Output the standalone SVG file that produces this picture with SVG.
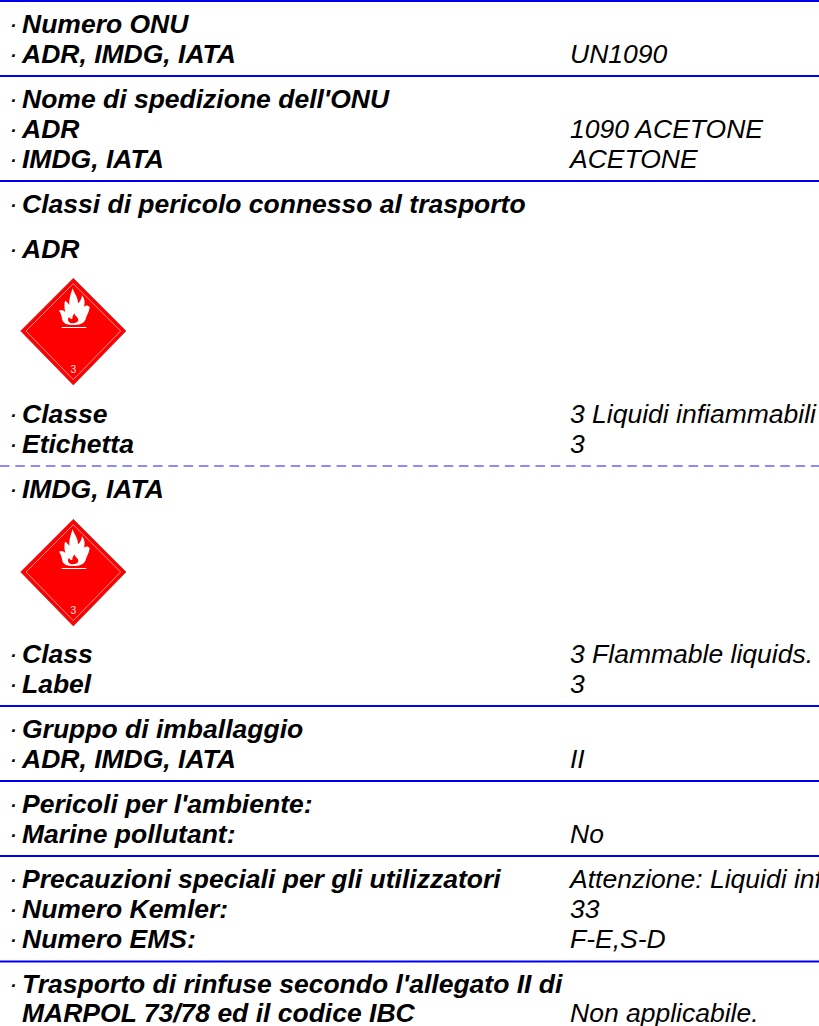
<svg xmlns="http://www.w3.org/2000/svg" width="819" height="1026" viewBox="0 0 819 1026">
<style>
text{font-family:"Liberation Sans",Arial,sans-serif;font-size:26.5px;font-style:italic;fill:#000}
.b{font-weight:bold}
.d{font-weight:normal}
.s{stroke:#0000f0;stroke-width:2;fill:none}
.dash{stroke:#6666ff;stroke-width:1.5;stroke-dasharray:9.5 5.8;fill:none}
</style>
<defs>
<g id="placard">
<polygon points="220,25 378,183 220,345 62,183" fill="#ff0000" stroke="#a03030" stroke-width="2"/>
<polygon points="220,41 362,183 220,329 78,183" fill="none" stroke="#ffb0b0" stroke-width="2.5"/>
<path d="M218,55C222,70 234,80 234,100C241,95 245,85 246,76C254,86 256,98 252,110C258,106 264,104 269,112C268,126 260,136 256,150C250,162 236,165 220,165C204,165 192,163 187,150C185,136 182,128 177,122C184,118 191,121 196,126C192,112 193,100 195,92C201,95 205,100 208,105C206,90 212,72 218,55Z" fill="#fff"/>
<path d="M223,130C225,139 236,142 235,151C233,158 226,160 219,160C211,160 205,157 204,150C204,146 205,143 207,141C210,145 213,148 217,147C216,141 220,136 223,130Z" fill="#ff0000"/>
<rect x="185" y="171" width="74" height="3" fill="#fff"/>
<text x="220" y="309" text-anchor="middle" style="font-size:31px;font-style:normal;fill:#ffe0e0">3</text>
</g>
</defs>
<g id="connectors">
<line class="s" x1="0" y1="1" x2="819" y2="1"/>
<line class="s" x1="0" y1="76" x2="819" y2="76"/>
<line class="s" x1="0" y1="181" x2="819" y2="181"/>
<line class="dash" x1="0" y1="466" x2="819" y2="466"/>
<line class="s" x1="0" y1="706" x2="819" y2="706"/>
<line class="s" x1="0" y1="781" x2="819" y2="781"/>
<line class="s" x1="0" y1="856" x2="819" y2="856"/>
<line class="s" x1="0" y1="961.5" x2="819" y2="961.5"/>
</g>
<g id="un-number">
<text x="9" y="33"><tspan class="d">·</tspan><tspan class="b" x="22">Numero ONU</tspan></text>
<text x="9" y="63"><tspan class="d">·</tspan><tspan class="b" x="22">ADR, IMDG, IATA</tspan></text>
<text x="570" y="63">UN1090</text>
</g>
<g id="shipping-name">
<text x="9" y="108"><tspan class="d">·</tspan><tspan class="b" x="22">Nome di spedizione dell'ONU</tspan></text>
<text x="9" y="138"><tspan class="d">·</tspan><tspan class="b" x="22">ADR</tspan></text>
<text x="570" y="138">1090 ACETONE</text>
<text x="9" y="168"><tspan class="d">·</tspan><tspan class="b" x="22">IMDG, IATA</tspan></text>
<text x="570" y="168">ACETONE</text>
</g>
<g id="transport-classes">
<text x="9" y="213"><tspan class="d">·</tspan><tspan class="b" x="22">Classi di pericolo connesso al trasporto</tspan></text>
<text x="9" y="258"><tspan class="d">·</tspan><tspan class="b" x="22">ADR</tspan></text>
</g>
<g id="placard-adr" transform="translate(0,270) scale(0.3333)"><use href="#placard"/></g>
<g id="adr-class">
<text x="9" y="423"><tspan class="d">·</tspan><tspan class="b" x="22">Classe</tspan></text>
<text x="570" y="423">3 Liquidi infiammabili</text>
<text x="9" y="453"><tspan class="d">·</tspan><tspan class="b" x="22">Etichetta</tspan></text>
<text x="570" y="453">3</text>
</g>
<g id="imdg-iata">
<text x="9" y="498"><tspan class="d">·</tspan><tspan class="b" x="22">IMDG, IATA</tspan></text>
</g>
<g id="placard-imdg" transform="translate(0,511) scale(0.3333)"><use href="#placard"/></g>
<g id="imdg-class">
<text x="9" y="663"><tspan class="d">·</tspan><tspan class="b" x="22">Class</tspan></text>
<text x="570" y="663">3 Flammable liquids.</text>
<text x="9" y="693"><tspan class="d">·</tspan><tspan class="b" x="22">Label</tspan></text>
<text x="570" y="693">3</text>
</g>
<g id="packing-group">
<text x="9" y="738"><tspan class="d">·</tspan><tspan class="b" x="22">Gruppo di imballaggio</tspan></text>
<text x="9" y="768"><tspan class="d">·</tspan><tspan class="b" x="22">ADR, IMDG, IATA</tspan></text>
<text x="570" y="768">II</text>
</g>
<g id="environment">
<text x="9" y="813"><tspan class="d">·</tspan><tspan class="b" x="22">Pericoli per l'ambiente:</tspan></text>
<text x="9" y="843"><tspan class="d">·</tspan><tspan class="b" x="22">Marine pollutant:</tspan></text>
<text x="570" y="843">No</text>
</g>
<g id="precautions">
<text x="9" y="888"><tspan class="d">·</tspan><tspan class="b" x="22">Precauzioni speciali per gli utilizzatori</tspan></text>
<text x="570" y="888">Attenzione: Liquidi inf</text>
<text x="9" y="918"><tspan class="d">·</tspan><tspan class="b" x="22">Numero Kemler:</tspan></text>
<text x="570" y="918">33</text>
<text x="9" y="948"><tspan class="d">·</tspan><tspan class="b" x="22">Numero EMS:</tspan></text>
<text x="570" y="948">F-E,S-D</text>
</g>
<g id="marpol">
<text x="9" y="993"><tspan class="d">·</tspan><tspan class="b" x="22">Trasporto di rinfuse secondo l'allegato II di</tspan></text>
<text x="22" y="1022" class="b">MARPOL 73/78 ed il codice IBC</text>
<text x="570" y="1022">Non applicabile.</text>
</g>
</svg>
